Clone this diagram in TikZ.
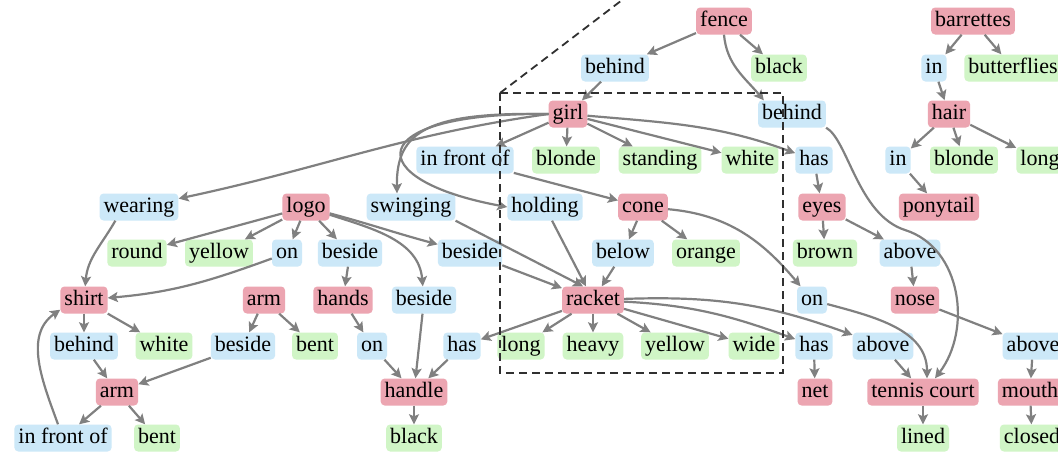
\documentclass[tikz,border=0pt]{standalone}
\usepackage{fontspec}
\setmainfont{Liberation Serif}
\usetikzlibrary{arrows.meta}
\definecolor{pinkc}{HTML}{ECA5B1}
\definecolor{bluec}{HTML}{CCE8F8}
\definecolor{greenc}{HTML}{D0F5C6}
\definecolor{edgec}{HTML}{808080}
\definecolor{dashc}{HTML}{303030}
\tikzset{
  nd/.style={rounded corners=4pt, inner xsep=4pt, inner ysep=0pt, minimum height=27pt,
    text height=15pt, text depth=5pt, font=\fontsize{22}{26}\selectfont, text=black},
  ent/.style={nd, fill=pinkc},
  rel/.style={nd, fill=bluec},
  att/.style={nd, fill=greenc},
  ed/.style={draw=edgec, line width=2.2pt, -{Stealth[length=10pt,width=10pt,inset=2pt]}},
  dashbox/.style={draw=dashc, line width=1.8pt, dash pattern=on 8pt off 5pt}
}
\begin{document}
\begin{tikzpicture}[x=1pt,y=-1pt]
\useasboundingbox (0,0) rectangle (1058,453);
\clip (0,0) rectangle (1058,453);
\fill[white] (0,0) rectangle (1058,453);
% row 1
\node[ent] (fence) at (724,21) {fence};
\node[ent] (barrettes) at (973,21) {barrettes};
% row 2
\node[rel] (behindA) at (615,68) {behind};
\node[att] (blackF) at (779,68) {black};
\node[rel] (inB) at (934,68) {in};
\node[att] (butterflies) at (1013,68) {butterflies};
% row 3
\node[ent] (girl) at (568,114) {girl};
\node[rel] (behindB) at (792,114) {behind};
\node[ent] (hair) at (949,114) {hair};
% row 4
\node[rel] (inFront) at (465,160) {in front of};
\node[att] (blondeG) at (566,160) {blonde};
\node[att] (standing) at (660,160) {standing};
\node[att] (whiteG) at (750,160) {white};
\node[rel] (hasG) at (814,160) {has};
\node[rel] (inH) at (898,160) {in};
\node[att] (blondeH) at (964,160) {blonde};
\node[att] (longH) at (1040,160) {long};
% row 5
\node[rel] (wearing) at (139,207) {wearing};
\node[ent] (logo) at (306,207) {logo};
\node[rel] (swinging) at (411,207) {swinging};
\node[rel] (holding) at (545,207) {holding};
\node[ent] (cone) at (643,207) {cone};
\node[ent] (eyes) at (822,207) {eyes};
\node[ent] (ponytail) at (939,207) {ponytail};
% row 6
\node[att] (round) at (137,253) {round};
\node[att] (yellowL) at (219,253) {yellow};
\node[rel] (onL) at (287,253) {on};
\node[rel] (besideA1) at (350,253) {beside};
\node[rel] (besideA2) at (470,253) {beside};
\node[rel] (below) at (623,253) {below};
\node[att] (orange) at (706,253) {orange};
\node[att] (brown) at (825,253) {brown};
\node[rel] (aboveE) at (910,253) {above};
% row 7
\node[ent] (shirt) at (84,300) {shirt};
\node[ent] (armR) at (264,300) {arm};
\node[ent] (hands) at (343,300) {hands};
\node[rel] (besideA3) at (424,300) {beside};
\node[ent] (racket) at (593,300) {racket};
\node[rel] (onC) at (812,300) {on};
\node[ent] (nose) at (915,300) {nose};
% row 8
\node[rel] (behindS) at (84,346) {behind};
\node[att] (whiteS) at (164,346) {white};
\node[rel] (besideB) at (243,346) {beside};
\node[att] (bentA) at (315,346) {bent};
\node[rel] (onH) at (372,346) {on};
\node[rel] (hasR) at (462,346) {has};
\node[att] (longR) at (521,346) {long};
\node[att] (heavy) at (593,346) {heavy};
\node[att] (yellowR) at (675,346) {yellow};
\node[att] (wide) at (754,346) {wide};
\node[rel] (hasN) at (814,346) {has};
\node[rel] (aboveT) at (883,346) {above};
\node[rel] (aboveM) at (1033,346) {above};
% row 9
\node[ent] (armL) at (117,392) {arm};
\node[ent] (handle) at (414,392) {handle};
\node[ent] (net) at (815,392) {net};
\node[ent] (tennis) at (923,392) {tennis court};
\node[ent] (mouth) at (1030,392) {mouth};
% row 10
\node[rel] (inFrontL) at (63,438) {in front of};
\node[att] (bentL) at (157,438) {bent};
\node[att] (blackH) at (414,438) {black};
\node[att] (lined) at (923,438) {lined};
\node[att] (closed) at (1032,438) {closed};

% edges: fence / girl
\draw[ed] (fence) -- (behindA);
\draw[ed] (fence) -- (blackF);
\draw[ed] (fence.south) to[out=-85,in=130] ([xshift=6pt]behindB.north west);
\draw[ed] (behindA) -- (girl);
\draw[ed] (girl) -- (inFront);
\draw[ed] (girl) -- (blondeG);
\draw[ed] (girl) -- (standing);
\draw[ed] (girl) -- (whiteG);
\draw[ed] (girl) to[out=-5,in=160] (hasG);
\draw[ed] (girl.west) to[out=188,in=12] (wearing);
\draw[ed] (girl.west) .. controls (430,112) and (396,130) .. ([xshift=-14pt]swinging.north);
\draw[ed] (girl.west) .. controls (360,112) and (360,180) .. (holding.west);
\draw[ed] (inFront) -- (cone);
% racket
\draw[ed] (holding) -- (racket);
\draw[ed] (swinging.south east) -- ([xshift=-10pt]racket.north);
\draw[ed] (besideA2) -- (racket);
\draw[ed] (below) -- (racket);
\draw[ed] (cone) -- (below);
\draw[ed] (cone) -- (orange);
\draw[ed] (cone) to[out=-5,in=130] (onC);
\draw[ed] (onC) to[out=-15,in=90] ([xshift=4pt]tennis.north);
\draw[ed] (racket) -- (hasR);
\draw[ed] (racket) -- (longR);
\draw[ed] (racket) -- (heavy);
\draw[ed] (racket) -- (yellowR);
\draw[ed] (racket) -- (wide);
\draw[ed] (racket) to[out=-3,in=160] (hasN);
\draw[ed] (racket) to[out=2,in=160] (aboveT);
\draw[ed] (hasN) -- (net);
\draw[ed] (aboveT) -- (tennis);
\draw[ed] (tennis) -- (lined);
\draw[ed] (behindB.south east) .. controls (848,140) and (858,215) .. (905,230)
   .. controls (962,248) and (972,330) .. ([xshift=12pt]tennis.north);
% eyes etc.
\draw[ed] (hasG) -- (eyes);
\draw[ed] (eyes) -- (brown);
\draw[ed] (eyes) -- (aboveE);
\draw[ed] (aboveE) -- (nose);
\draw[ed] (nose) -- (aboveM);
\draw[ed] (aboveM) -- (mouth);
\draw[ed] (mouth) -- (closed);
% barrettes / hair
\draw[ed] (barrettes) -- (inB);
\draw[ed] (barrettes) -- (butterflies);
\draw[ed] (inB) -- (hair);
\draw[ed] (hair) -- (inH);
\draw[ed] (hair) -- (blondeH);
\draw[ed] (hair) -- (longH);
\draw[ed] (inH) -- (ponytail);
% logo
\draw[ed] (logo) -- (round);
\draw[ed] (logo) -- (yellowL);
\draw[ed] (logo) -- (onL);
\draw[ed] (logo) -- (besideA1);
\draw[ed] (logo) to[out=-15,in=165] (besideA2);
\draw[ed] (logo) to[out=-18,in=95] (besideA3);
\draw[ed] (besideA1) -- (hands);
\draw[ed] (hands) -- (onH);
\draw[ed] (onH) -- (handle);
\draw[ed] (besideA3) -- (handle);
\draw[ed] (hasR) -- (handle);
\draw[ed] (handle) -- (blackH);
% shirt / arm
\draw[ed] (onL) to[out=200,in=5] (shirt);
\draw[ed] ([xshift=16pt]wearing.south west) to[out=240,in=85] (shirt);
\draw[ed] (shirt) -- (behindS);
\draw[ed] (shirt) -- (whiteS);
\draw[ed] (behindS) -- (armL);
\draw[ed] (besideB) -- (armL);
\draw[ed] (armR) -- (besideB);
\draw[ed] (armR) -- (bentA);
\draw[ed] (armL) -- (inFrontL);
\draw[ed] (armL) -- (bentL);
\draw[ed] (inFrontL) to[out=110,in=215] ([yshift=4pt]shirt.south west);
% dashed zoom box
\draw[dashbox] (500,93) rectangle (783,373);
\draw[dashbox] (500,93) -- (630,-6);
\end{tikzpicture}
\end{document}
